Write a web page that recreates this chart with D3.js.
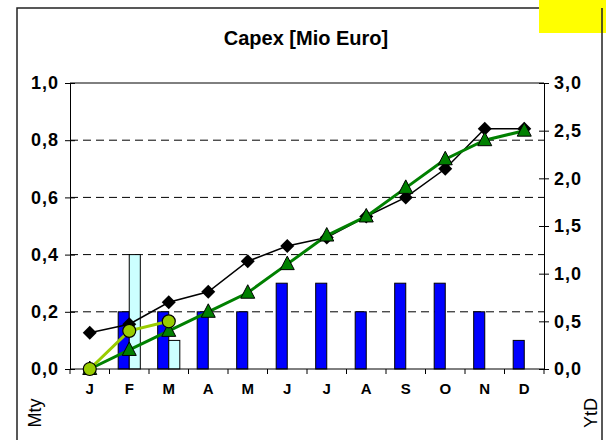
<!DOCTYPE html>
<html>
<head>
<meta charset="utf-8">
<script src="https://cdn.jsdelivr.net/npm/d3@7"></script>
<style>
  body { margin: 0; background: #fff; }
  text { font-family: "Liberation Sans", Arial, sans-serif; }
</style>
</head>
<body>
<script>
// Monate und Werte
var months = ["J", "F", "M", "A", "M", "J", "J", "A", "S", "O", "N", "D"];
var mtyIst = [0, 0.2, 0.2, 0.2, 0.2, 0.3, 0.3, 0.2, 0.3, 0.3, 0.2, 0.1];
var mtyPlan = [0, 0.4, 0.1, 0, 0, 0, 0, 0, 0, 0, 0, 0];
var ytdIst = [0, 0.2, 0.4, 0.6, 0.8, 1.1, 1.4, 1.6, 1.9, 2.2, 2.4, 2.5];
var ytdForecast = [0.38, 0.47, 0.70, 0.81, 1.13, 1.29, 1.38, 1.60, 1.80, 2.10, 2.52, 2.52];
var ytdPlan = [0, 0.4, 0.5];
var leftTicks = [0, 0.2, 0.4, 0.6, 0.8, 1.0];
var rightTicks = [0, 0.5, 1.0, 1.5, 2.0, 2.5, 3.0];

var W = 606, H = 440;
var pLeft = 70, pRight = 544, pTop = 83, pBottom = 369;

var svg = d3.select("body").append("svg")
    .attr("width", W)
    .attr("height", H);

svg.append("rect").attr("width", W).attr("height", H).attr("fill", "#fff");

// Rahmen
svg.append("rect")
    .attr("x", 17).attr("y", 8)
    .attr("width", 585).attr("height", 450)
    .attr("fill", "none")
    .attr("stroke", "#222")
    .attr("stroke-width", 1.5);

svg.append("rect")
    .attr("x", 539).attr("y", 0)
    .attr("width", 67).attr("height", 33)
    .attr("fill", "#ffff00");
svg.append("line")
    .attr("x1", 602).attr("x2", 602).attr("y1", 8).attr("y2", 33)
    .attr("stroke", "#222").attr("stroke-width", 1.5);

svg.append("text")
    .attr("x", 306).attr("y", 45)
    .attr("text-anchor", "middle")
    .attr("font-size", 20)
    .attr("font-weight", "bold")
    .text("Capex [Mio Euro]");

// Skalen
var x = d3.scaleBand().domain(d3.range(months.length)).range([pLeft, pRight]);
var bw = x.bandwidth();
var xSub = d3.scaleBand().domain(["ist", "plan"]).range([bw * 0.22, bw * 0.78]);
var yL = d3.scaleLinear().domain([0, 1]).range([pBottom, pTop]);
var yR = d3.scaleLinear().domain([0, 3]).range([pBottom, pTop]);
var cx = function (i) { return x(i) + bw / 2; };

// Gitterlinien
svg.append("g").selectAll("line")
    .data(leftTicks.filter(function (d) { return d > 0 && d < 1; }))
    .enter().append("line")
    .attr("x1", pLeft).attr("x2", pRight)
    .attr("y1", function (d) { return yL(d); })
    .attr("y2", function (d) { return yL(d); })
    .attr("stroke", "#000")
    .attr("stroke-dasharray", "8,5");

svg.append("line")
    .attr("x1", pLeft).attr("x2", pRight)
    .attr("y1", yL(1)).attr("y2", yL(1))
    .attr("stroke", "#000");

// Balken
var barData = [];
months.forEach(function (m, i) {
    barData.push({ i: i, key: "ist", v: mtyIst[i] });
    barData.push({ i: i, key: "plan", v: mtyPlan[i] });
});

svg.append("g").selectAll("rect")
    .data(barData.filter(function (d) { return d.v > 0; }))
    .enter().append("rect")
    .attr("x", function (d) { return x(d.i) + xSub(d.key); })
    .attr("y", function (d) { return yL(d.v); })
    .attr("width", xSub.bandwidth())
    .attr("height", function (d) { return yL(0) - yL(d.v); })
    .attr("fill", function (d) { return d.key == "ist" ? "#0000ff" : "#ccffff"; })
    .attr("stroke", "#000");

// Achsen
var fmt = function (d) { return d3.format(".1f")(d).replace(".", ","); };

var gL = svg.append("g")
    .attr("transform", "translate(" + pLeft + ",0)")
    .call(d3.axisLeft(yL).tickValues(leftTicks).tickFormat(fmt).tickSizeInner(5).tickSizeOuter(0).tickPadding(6));
gL.selectAll(".tick line").attr("x2", 5).attr("x1", -5);

var gR = svg.append("g")
    .attr("transform", "translate(" + pRight + ",0)")
    .call(d3.axisRight(yR).tickValues(rightTicks).tickFormat(fmt).tickSizeInner(5).tickSizeOuter(0).tickPadding(5));
gR.selectAll(".tick line").attr("x1", -5).attr("x2", 5);

[gL, gR].forEach(function (g) {
    g.selectAll("text")
        .attr("font-size", 18)
        .attr("font-weight", "bold")
        .attr("letter-spacing", 1)
        .attr("fill", "#000")
        .style("font-family", "'Liberation Sans', Arial, sans-serif");
    g.selectAll("path, line").attr("stroke", "#000");
});

svg.append("line")
    .attr("x1", pLeft).attr("x2", pRight)
    .attr("y1", pBottom).attr("y2", pBottom)
    .attr("stroke", "#000");

svg.append("g").selectAll("line")
    .data(d3.range(months.length + 1))
    .enter().append("line")
    .attr("x1", function (d) { return pLeft + d * bw; })
    .attr("x2", function (d) { return pLeft + d * bw; })
    .attr("y1", pBottom).attr("y2", pBottom + 5)
    .attr("stroke", "#000");

svg.append("g").selectAll("text")
    .data(months)
    .enter().append("text")
    .attr("x", function (d, i) { return cx(i); })
    .attr("y", 394)
    .attr("text-anchor", "middle")
    .attr("font-size", 15)
    .attr("font-weight", "bold")
    .text(function (d) { return d; });

svg.append("text")
    .attr("transform", "translate(41,413) rotate(-90)")
    .attr("text-anchor", "middle")
    .attr("font-size", 18)
    .text("Mty");

svg.append("text")
    .attr("transform", "translate(597,413) rotate(-90)")
    .attr("text-anchor", "middle")
    .attr("font-size", 18)
    .text("YtD");

// Linien
var line = d3.line()
    .x(function (d, i) { return cx(i); })
    .y(function (d) { return yR(d); });

var diamond = "M0,-7L7,0L0,7L-7,0Z";
var triangle = "M0,-8L7,5.5L-7,5.5Z";

svg.append("path")
    .attr("d", line(ytdForecast))
    .attr("fill", "none")
    .attr("stroke", "#000")
    .attr("stroke-width", 1.5);
svg.append("g").selectAll("path")
    .data(ytdForecast)
    .enter().append("path")
    .attr("d", diamond)
    .attr("transform", function (d, i) { return "translate(" + cx(i) + "," + yR(d) + ")"; })
    .attr("fill", "#000");

svg.append("path")
    .attr("d", line(ytdIst))
    .attr("fill", "none")
    .attr("stroke", "#008000")
    .attr("stroke-width", 3);
svg.append("g").selectAll("path")
    .data(ytdIst)
    .enter().append("path")
    .attr("d", triangle)
    .attr("transform", function (d, i) { return "translate(" + cx(i) + "," + yR(d) + ")"; })
    .attr("fill", "#008000")
    .attr("stroke", "#000");

svg.append("path")
    .attr("d", line(ytdPlan))
    .attr("fill", "none")
    .attr("stroke", "#99cc00")
    .attr("stroke-width", 3);
svg.append("g").selectAll("circle")
    .data(ytdPlan)
    .enter().append("circle")
    .attr("cx", function (d, i) { return cx(i); })
    .attr("cy", function (d) { return yR(d); })
    .attr("r", 6.5)
    .attr("fill", "#99cc00")
    .attr("stroke", "#000")
    .attr("stroke-width", 1.2);
</script>
</body>
</html>
